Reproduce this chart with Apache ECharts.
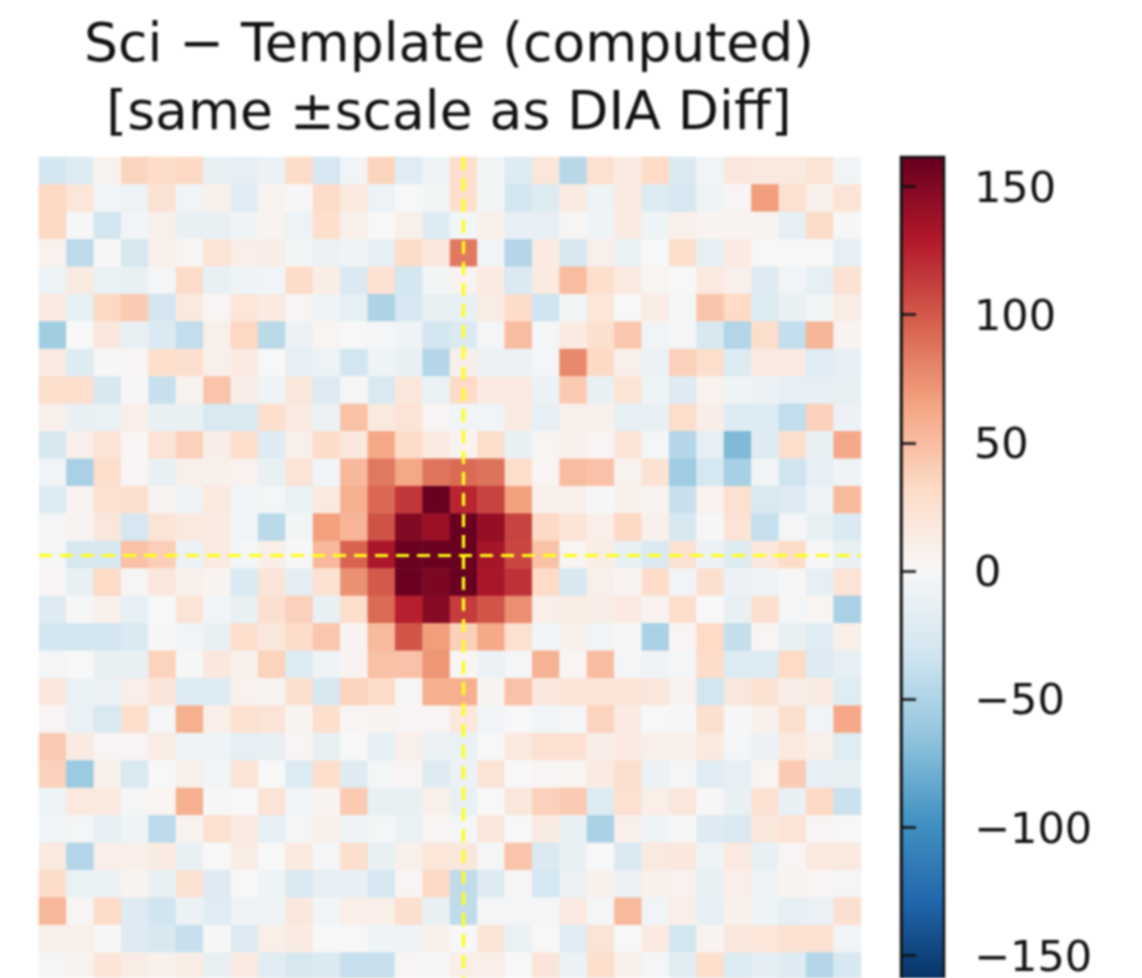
<!DOCTYPE html>
<html><head><meta charset="utf-8">
<style>html,body{margin:0;padding:0;background:#fff;overflow:hidden}#c{width:1142px;height:978px;filter:blur(1px)}</style>
<script src="https://cdn.jsdelivr.net/npm/echarts@6/dist/echarts.min.js"></script>
</head><body><div id="c"></div>
<script>
const titleLines = ['Sci − Template (computed)', '[same ±scale as DIA Diff]'];
const colorTicks = [-150, -100, -50, 0, 50, 100, 150];
const scaleMax = 161.5;
const crossX = 15, crossY = 14;
const rdbu = ['#053061','#2166ac','#4393c3','#92c5de','#d1e5f0','#f7f7f7','#fddbc7','#f4a582','#d6604d','#b2182b','#67001f'];
const row00=[-30,-22,6,36,30,33,-12,-14,-10,30,-28,-6,36,-20,-8,28,-4,-22,20,-45,26,14,32,-24,-5,18,16,16,22,-5];
const row01=[34,20,-5,-9,24,-5,8,-20,5,1,30,16,-9,0,-4,28,-4,-30,-22,14,-8,15,-21,-28,-8,3,68,26,8,22];
const row02=[34,1,-30,-6,9,-12,-12,-7,5,-9,28,9,0,9,-22,-4,8,-14,-14,2,-8,14,-8,9,5,5,5,-15,30,1];
const row03=[7,-42,1,-27,9,3,23,10,11,-4,-10,-8,-14,30,17,85,-5,-47,15,-27,9,-11,0,28,-14,15,0,0,0,-15];
const row04=[-9,15,-11,-13,-3,30,-13,-8,-5,30,12,-25,25,-30,-4,5,15,-25,15,50,28,15,4,0,16,9,-21,-5,-15,24];
const row05=[15,-15,34,42,-30,16,3,20,15,3,-8,-15,-50,-28,-13,-13,13,30,-33,-4,20,0,13,-3,45,32,-22,-13,-4,13];
const row06=[-57,0,17,-12,-24,-40,9,34,-44,-10,4,0,-3,-8,-30,-24,-3,50,-3,14,27,44,-5,-3,-27,-48,29,-40,55,5];
const row07=[15,-22,1,3,28,27,9,15,0,-14,-9,-31,-8,-13,-47,9,-10,-10,-3,78,33,9,-10,38,29,-22,15,15,-20,-15];
const row08=[28,28,-27,1,-37,6,46,11,-8,18,-21,1,-26,18,-11,32,15,15,-10,42,-13,22,-8,-21,7,-8,-10,-15,-15,-13];
const row09=[9,-13,-11,10,-13,-13,-26,-26,28,14,-10,48,16,22,3,-5,-5,14,-14,9,8,-15,-13,29,11,-22,-22,-40,38,-10];
const row10=[-27,9,23,3,23,38,11,29,-21,9,31,17,62,31,15,5,29,-13,3,8,3,22,-3,-47,-15,-72,-21,28,-13,62];
const row11=[-5,-53,28,3,-13,9,8,7,-13,22,-5,53,85,63,87,92,88,29,4,50,47,6,24,-58,-29,-54,-5,-33,-15,-7];
const row12=[-23,5,24,27,5,-7,16,-5,-3,-11,16,58,93,115,161,124,110,66,9,9,1,8,5,-37,7,26,-26,-21,-8,52];
const row13=[-3,5,18,-28,22,16,14,-5,-44,-4,67,55,103,150,140,161,142,110,33,21,10,33,8,-27,1,23,-38,-3,-12,-25];
const row14=[-3,-27,-27,48,40,-10,15,-3,10,1,53,95,132,160,160,161,135,108,48,4,12,-13,-24,24,-10,-21,17,30,1,-12];
const row15=[3,-13,32,2,18,8,5,-25,21,-16,24,74,100,160,152,161,133,118,32,-27,9,5,30,-5,27,-10,-7,1,-15,22];
const row16=[-21,1,9,-15,0,22,-5,-13,27,38,-13,29,92,126,148,113,102,75,10,13,11,15,5,28,0,-13,27,-3,4,-53];
const row17=[-30,-31,-31,-25,1,-5,-13,29,18,31,44,5,52,102,68,39,62,26,-5,8,-5,1,-52,3,32,-39,3,-13,-20,10];
const row18=[-3,0,-13,-13,37,1,17,8,37,-22,-8,5,48,47,71,3,-10,-3,56,3,50,-3,-7,-3,31,-23,-23,32,-21,-15];
const row19=[18,-11,-10,10,21,-22,-22,7,5,27,-27,37,31,2,58,58,5,47,17,22,22,22,18,6,-31,18,24,11,14,-20];
const row20=[3,-11,-26,28,-3,58,10,26,22,5,28,3,5,3,3,17,-5,0,-5,-3,37,15,0,1,27,1,8,27,-5,62];
const row21=[42,14,3,3,13,-8,-8,-15,-13,3,-13,0,-15,9,-10,-11,0,16,25,25,11,15,9,9,16,-3,-10,16,9,-20];
const row22=[38,-60,8,-26,0,9,-5,22,0,-22,28,-21,-3,3,-21,-10,22,0,3,4,14,27,-10,-3,-20,-14,4,42,-15,-13];
const row23=[-8,16,16,-3,4,58,1,0,23,-5,5,42,-13,-13,9,-13,0,18,38,42,-22,26,10,18,1,-13,24,-13,33,-36];
const row24=[-5,-3,-15,-8,-43,6,25,15,-15,-3,9,-8,-3,-11,3,-3,18,0,14,-13,-52,9,-8,1,-21,-25,18,23,3,0];
const row25=[16,-47,10,10,14,-13,0,13,0,16,-3,28,-13,8,20,18,-3,46,-25,-13,0,-25,16,17,-8,16,-13,3,16,16];
const row26=[31,-11,-11,5,-13,24,-21,0,-8,-25,-15,-13,-28,3,33,-41,-21,2,-29,-10,8,-10,8,7,-13,10,-8,5,3,-3];
const row27=[54,3,31,-21,-32,-10,-20,-8,-8,17,-5,10,10,27,-13,-41,-3,-3,-3,15,-3,52,-5,10,-15,8,-8,-15,-10,27];
const row28=[9,9,1,-21,-27,-37,1,-21,10,14,0,0,-8,-8,8,0,21,-11,0,-20,23,0,15,-30,5,18,20,24,25,-6];
const row29=[-3,5,21,13,8,12,-12,15,-19,-27,-24,-37,-37,3,1,10,10,0,21,-10,28,9,-3,-18,28,-22,-16,-21,-47,-27];
const rows=[row00,row01,row02,row03,row04,row05,row06,row07,row08,row09,row10,row11,row12,row13,row14,row15,row16,row17,row18,row19,row20,row21,row22,row23,row24,row25,row26,row27,row28,row29];

const cells=[];
rows.forEach((r,y)=>r.forEach((v,x)=>cells.push([x,y,v])));
const idx=rows[0].map((_,i)=>i);
const chart=echarts.init(document.getElementById('c'),null,{renderer:'canvas'});
const ink='#111';
chart.setOption({
  animation:false,
  backgroundColor:'#fff',
  title:{text:titleLines.join('\n'),left:444,top:8,textAlign:'center',
    textStyle:{fontFamily:'DejaVu Sans',fontSize:53.5,fontWeight:'normal',color:ink,lineHeight:68}},
  grid:[
    {left:39,top:157,width:822,height:823,show:false,outerBoundsMode:'none'},
    {left:901,top:157,width:43,height:828,show:true,outerBoundsMode:'none',backgroundColor:'transparent',borderColor:'#111',borderWidth:2.5,z:10}
  ],
  xAxis:[
    {type:'category',data:idx,gridIndex:0,show:false},
    {type:'value',gridIndex:1,show:false,min:0,max:1}
  ],
  yAxis:[
    {type:'category',data:idx,gridIndex:0,show:false,inverse:true},
    {type:'value',gridIndex:1,position:'right',min:-scaleMax,max:scaleMax,z:10,splitLine:{show:false},
      axisLine:{show:true,lineStyle:{color:'#111',width:2.5}},
      axisTick:{show:true,length:15,lineStyle:{color:ink,width:2.5},customValues:colorTicks},
      axisLabel:{show:true,margin:30,fontFamily:'DejaVu Sans',fontSize:43,color:ink,verticalAlign:'top',lineHeight:8,customValues:colorTicks,
        formatter:v=>String(v).replace('-','−')}}
  ],
  visualMap:{type:'continuous',min:-scaleMax,max:scaleMax,seriesIndex:0,dimension:2,calculable:false,realtime:false,
    orient:'vertical',left:901,top:157,itemWidth:43,itemHeight:828,padding:0,text:['',''],showLabel:false,
    inRange:{color:rdbu}},
  series:[{type:'heatmap',xAxisIndex:0,yAxisIndex:0,data:cells,progressive:0,silent:true,
    itemStyle:{borderWidth:0},emphasis:{disabled:true},
    markLine:{silent:true,symbol:'none',animation:false,label:{show:false},
      lineStyle:{color:'#ffff14',type:[13,8],width:3.2,opacity:1},
      data:[{xAxis:crossX},{yAxis:crossY}]}}]
});
</script></body></html>
